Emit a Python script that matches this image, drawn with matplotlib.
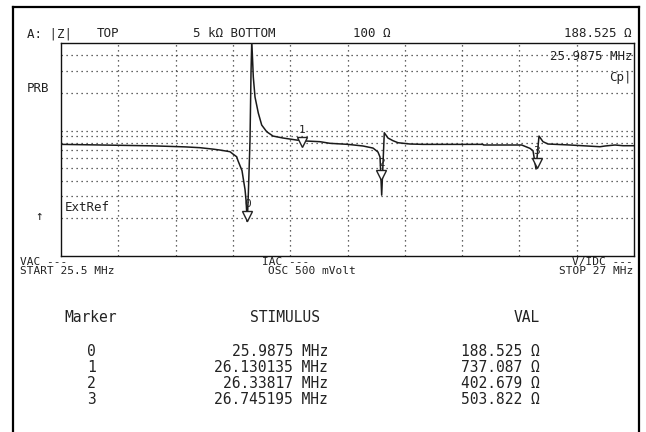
import numpy as np
import matplotlib
matplotlib.use("Agg")
import matplotlib.pyplot as plt
from matplotlib.lines import Line2D
from matplotlib.ticker import NullLocator
from matplotlib.transforms import offset_copy

# ---------------- data ----------------
start_mhz = 25.5
stop_mhz = 27.0
top_ohm = 5000
bottom_ohm = 100
grid_ohm = [200, 300, 400, 500, 600, 700, 800, 900, 1000, 2000, 3000, 4000]

trace_freq_mhz = [
    25.500, 25.5838, 25.7408, 25.8246, 25.8639, 25.8979, 25.9162, 25.9424,
    25.9503, 25.9599, 25.9634, 25.9738, 25.9791, 25.9817, 25.9843, 25.9865,
    25.9877, 25.9905, 25.9948, 25.9974, 25.9994, 26.0034, 26.0079, 26.0165,
    26.0254, 26.0385, 26.0550, 26.0812, 26.1170, 26.1432, 26.1780, 26.2042,
    26.2513, 26.2906, 26.3168, 26.3298, 26.3351, 26.3395, 26.3463, 26.3560,
    26.3691, 26.3822, 26.4136, 26.4476, 26.6047, 26.6060, 26.7060, 26.7277,
    26.7356, 26.7435, 26.7513, 26.7618, 26.7749, 26.8325, 26.9110, 26.9241,
    26.9503, 26.9712, 27.000,
]
trace_z_ohm = [
    777, 770, 756, 742, 731, 712, 700, 679,
    650, 619, 575, 480, 380, 340, 280, 215,
    188.5, 320, 841, 2880, 5200, 2676, 1853, 1381,
    1108, 980, 905, 873, 841, 826, 816, 792,
    777, 754, 726, 675, 616, 306, 962, 873,
    831, 801, 782, 777, 777, 768, 768, 722,
    691, 494, 905, 816, 782, 768, 744, 754,
    768, 758, 758,
]

marker_ids = [0, 1, 2, 3]
marker_stimulus_mhz = [25.9875, 26.130135, 26.33817, 26.745195]
marker_value_ohm = [188.525, 737.087, 402.679, 503.822]

header_left = "A: |Z|"
header_top = "TOP"
header_top_val = "5 k\u03a9 BOTTOM"
header_bottom_val = "100 \u03a9"
osc_text = "OSC 500 mVolt"

# ---------------- figure ----------------
W, H = 646, 432
fig = plt.figure(figsize=(W / 100, H / 100), dpi=100)
fig.patch.set_facecolor("white")


def fx(x):
    return x / W


def fy(y):
    return 1 - y / H


MONO = "DejaVu Sans Mono"
INK = "#222222"

# outer frame (left, top, right)
for xs, ys in [([13, 13], [432, 7]), ([13, 639], [7, 7]), ([639, 639], [7, 432])]:
    fig.add_artist(Line2D([fx(v) for v in xs], [fy(v) for v in ys],
                          color="black", lw=1.6, transform=fig.transFigure))

ax = fig.add_axes([fx(61), fy(256), (634 - 61) / W, (256 - 43) / H])
ax.plot(trace_freq_mhz, trace_z_ohm, color="#1a1a1a", lw=1.1, zorder=3)
ax.set_yscale("log")
ax.set_xlim(start_mhz, stop_mhz)
ax.set_ylim(bottom_ohm, top_ohm)
ax.set_xticks(np.linspace(start_mhz, stop_mhz, 11)[1:-1])
ax.set_yticks(grid_ohm)
ax.yaxis.set_minor_locator(NullLocator())
ax.tick_params(which="both", length=0, labelbottom=False, labelleft=False)
ax.grid(True, linestyle=(0, (1, 3)), color="#333333", lw=0.9)
for s in ax.spines.values():
    s.set_color("#111111")
    s.set_linewidth(1.0)

# markers: open down-triangles with tip on the value
tri_tf = offset_copy(ax.transData, fig=fig, x=0, y=5, units="dots")
ax.plot(marker_stimulus_mhz, marker_value_ohm, linestyle="none", marker="v",
        ms=7.5, mfc="white", mec="#222222", mew=1.0, transform=tri_tf, zorder=4)
for m, f, v in zip(marker_ids, marker_stimulus_mhz, marker_value_ohm):
    ax.annotate(str(m), (f, v), xytext=(0, 17), textcoords="offset pixels",
                ha="center", va="center", fontsize=8, family=MONO, color=INK,
                zorder=5)

# ---------------- header texts ----------------
hs = 9
fig.text(fx(27), fy(33.5), header_left, family=MONO, fontsize=hs, color=INK, va="center")
fig.text(fx(97), fy(33.5), header_top, family=MONO, fontsize=hs, color=INK, va="center")
fig.text(fx(193), fy(33.5), header_top_val, family=MONO, fontsize=hs, color=INK, va="center")
fig.text(fx(353), fy(33.5), header_bottom_val, family=MONO, fontsize=hs, color=INK, va="center")
fig.text(fx(632), fy(33.5), f"{marker_value_ohm[0]:.3f} \u03a9", family=MONO,
         fontsize=hs, color=INK, va="center", ha="right")
fig.text(fx(632), fy(56), f"{marker_stimulus_mhz[0]} MHz", family=MONO,
         fontsize=hs, color=INK, va="center", ha="right")
fig.text(fx(632), fy(78), "Cp|", family=MONO, fontsize=hs, color=INK,
         va="center", ha="right")
fig.text(fx(27), fy(89), "PRB", family=MONO, fontsize=hs, color=INK, va="center")
fig.text(fx(39), fy(216), "\u2191", family=MONO, fontsize=hs, color=INK,
         va="center", ha="center")
fig.text(fx(65), fy(207), "ExtRef", family=MONO, fontsize=hs, color=INK, va="center")

# ---------------- footer texts ----------------
fs = 8
y1, y2 = 262, 271
fig.text(fx(20), fy(y1), "VAC ---", family=MONO, fontsize=fs, color=INK, va="center")
fig.text(fx(20), fy(y2), f"START {start_mhz:g} MHz", family=MONO, fontsize=fs,
         color=INK, va="center")
fig.text(fx(262), fy(y1), "IAC ---", family=MONO, fontsize=fs, color=INK, va="center")
fig.text(fx(268), fy(y2), osc_text, family=MONO, fontsize=fs, color=INK, va="center")
fig.text(fx(633), fy(y1), "V/IDC ---", family=MONO, fontsize=fs, color=INK,
         va="center", ha="right")
fig.text(fx(633), fy(y2), f"STOP {stop_mhz:g} MHz", family=MONO, fontsize=fs,
         color=INK, va="center", ha="right")

# ---------------- marker table ----------------
ts = 10.5
col_id, col_stim, col_val = 96, 328, 540
fig.text(fx(64), fy(318), "Marker", family=MONO, fontsize=ts, color=INK,
         va="center", ha="left")
fig.text(fx(col_stim - 8), fy(318), "STIMULUS", family=MONO, fontsize=ts, color=INK,
         va="center", ha="right")
fig.text(fx(col_val), fy(318), "VAL", family=MONO, fontsize=ts, color=INK,
         va="center", ha="right")
row_y = [352, 368, 384, 400]
for m, f, v, y in zip(marker_ids, marker_stimulus_mhz, marker_value_ohm, row_y):
    fig.text(fx(col_id), fy(y), str(m), family=MONO, fontsize=ts, color=INK,
             va="center", ha="right")
    fig.text(fx(col_stim), fy(y), f"{f} MHz", family=MONO, fontsize=ts, color=INK,
             va="center", ha="right")
    fig.text(fx(col_val), fy(y), f"{v:.3f} \u03a9", family=MONO, fontsize=ts,
             color=INK, va="center", ha="right")

fig.savefig("out.png", dpi=100, facecolor="white")
